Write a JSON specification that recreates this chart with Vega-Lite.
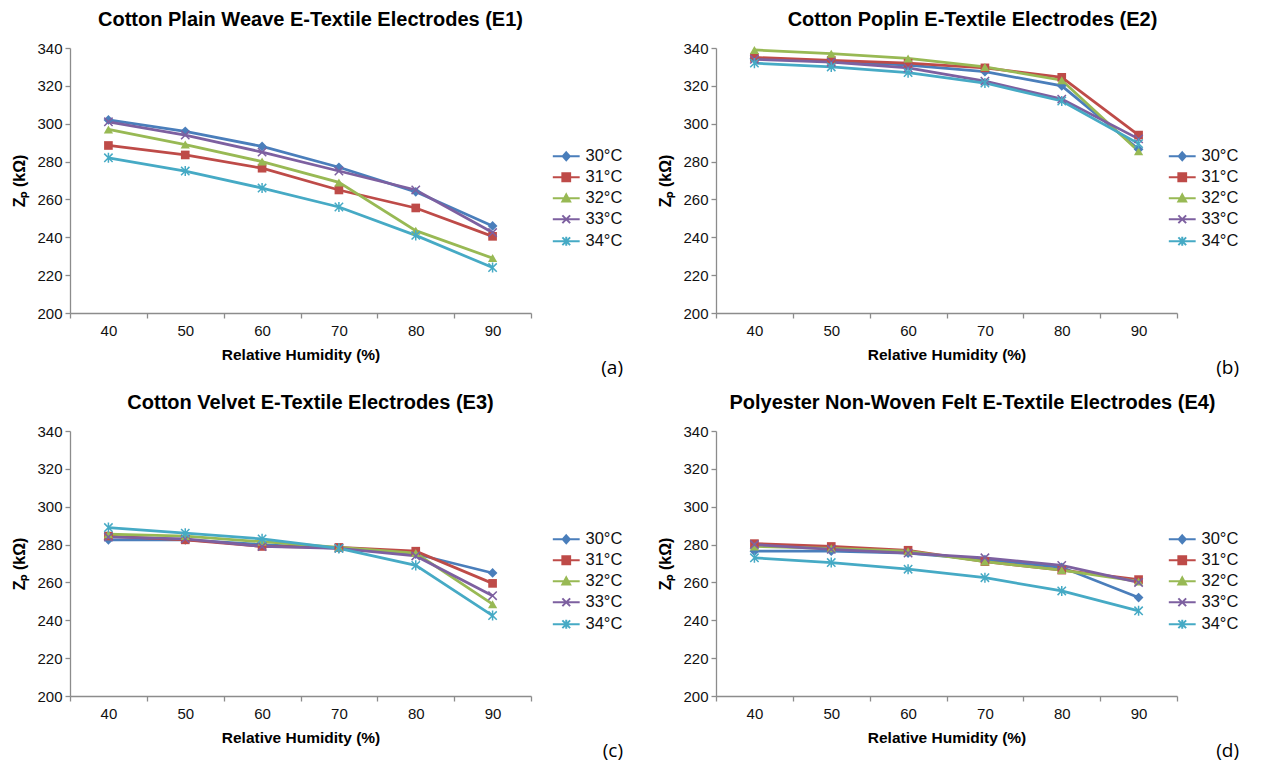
{
  "$schema": "https://vega.github.io/schema/vega-lite/v6.json",
  "background": "white",
  "padding": {"left": 11, "top": 10, "right": 5, "bottom": 5},
  "data": {"values": [
    {"panel":"E1","temp":"30°C","rh":40,"z":302},{"panel":"E1","temp":"30°C","rh":50,"z":296},{"panel":"E1","temp":"30°C","rh":60,"z":288},{"panel":"E1","temp":"30°C","rh":70,"z":277},{"panel":"E1","temp":"30°C","rh":80,"z":264},{"panel":"E1","temp":"30°C","rh":90,"z":246},
    {"panel":"E1","temp":"31°C","rh":40,"z":288.5},{"panel":"E1","temp":"31°C","rh":50,"z":283.5},{"panel":"E1","temp":"31°C","rh":60,"z":276.5},{"panel":"E1","temp":"31°C","rh":70,"z":265},{"panel":"E1","temp":"31°C","rh":80,"z":255.5},{"panel":"E1","temp":"31°C","rh":90,"z":240.5},
    {"panel":"E1","temp":"32°C","rh":40,"z":297},{"panel":"E1","temp":"32°C","rh":50,"z":289},{"panel":"E1","temp":"32°C","rh":60,"z":280},{"panel":"E1","temp":"32°C","rh":70,"z":269},{"panel":"E1","temp":"32°C","rh":80,"z":243.5},{"panel":"E1","temp":"32°C","rh":90,"z":229},
    {"panel":"E1","temp":"33°C","rh":40,"z":301},{"panel":"E1","temp":"33°C","rh":50,"z":294},{"panel":"E1","temp":"33°C","rh":60,"z":285},{"panel":"E1","temp":"33°C","rh":70,"z":275},{"panel":"E1","temp":"33°C","rh":80,"z":265},{"panel":"E1","temp":"33°C","rh":90,"z":242.5},
    {"panel":"E1","temp":"34°C","rh":40,"z":282},{"panel":"E1","temp":"34°C","rh":50,"z":275},{"panel":"E1","temp":"34°C","rh":60,"z":266},{"panel":"E1","temp":"34°C","rh":70,"z":256},{"panel":"E1","temp":"34°C","rh":80,"z":241},{"panel":"E1","temp":"34°C","rh":90,"z":224},

    {"panel":"E2","temp":"30°C","rh":40,"z":334.5},{"panel":"E2","temp":"30°C","rh":50,"z":333},{"panel":"E2","temp":"30°C","rh":60,"z":331},{"panel":"E2","temp":"30°C","rh":70,"z":327.5},{"panel":"E2","temp":"30°C","rh":80,"z":320},{"panel":"E2","temp":"30°C","rh":90,"z":286.5},
    {"panel":"E2","temp":"31°C","rh":40,"z":335},{"panel":"E2","temp":"31°C","rh":50,"z":333.5},{"panel":"E2","temp":"31°C","rh":60,"z":332},{"panel":"E2","temp":"31°C","rh":70,"z":329.5},{"panel":"E2","temp":"31°C","rh":80,"z":324.5},{"panel":"E2","temp":"31°C","rh":90,"z":294},
    {"panel":"E2","temp":"32°C","rh":40,"z":339},{"panel":"E2","temp":"32°C","rh":50,"z":337},{"panel":"E2","temp":"32°C","rh":60,"z":334.5},{"panel":"E2","temp":"32°C","rh":70,"z":330},{"panel":"E2","temp":"32°C","rh":80,"z":323},{"panel":"E2","temp":"32°C","rh":90,"z":285.5},
    {"panel":"E2","temp":"33°C","rh":40,"z":334},{"panel":"E2","temp":"33°C","rh":50,"z":332.5},{"panel":"E2","temp":"33°C","rh":60,"z":329.5},{"panel":"E2","temp":"33°C","rh":70,"z":322.5},{"panel":"E2","temp":"33°C","rh":80,"z":313},{"panel":"E2","temp":"33°C","rh":90,"z":292},
    {"panel":"E2","temp":"34°C","rh":40,"z":332},{"panel":"E2","temp":"34°C","rh":50,"z":330},{"panel":"E2","temp":"34°C","rh":60,"z":327},{"panel":"E2","temp":"34°C","rh":70,"z":321.5},{"panel":"E2","temp":"34°C","rh":80,"z":312},{"panel":"E2","temp":"34°C","rh":90,"z":289.5},

    {"panel":"E3","temp":"30°C","rh":40,"z":282.5},{"panel":"E3","temp":"30°C","rh":50,"z":282.5},{"panel":"E3","temp":"30°C","rh":60,"z":280},{"panel":"E3","temp":"30°C","rh":70,"z":278},{"panel":"E3","temp":"30°C","rh":80,"z":275},{"panel":"E3","temp":"30°C","rh":90,"z":265},
    {"panel":"E3","temp":"31°C","rh":40,"z":284.5},{"panel":"E3","temp":"31°C","rh":50,"z":282.5},{"panel":"E3","temp":"31°C","rh":60,"z":279},{"panel":"E3","temp":"31°C","rh":70,"z":278.5},{"panel":"E3","temp":"31°C","rh":80,"z":276.5},{"panel":"E3","temp":"31°C","rh":90,"z":259.5},
    {"panel":"E3","temp":"32°C","rh":40,"z":285.5},{"panel":"E3","temp":"32°C","rh":50,"z":284.5},{"panel":"E3","temp":"32°C","rh":60,"z":281.5},{"panel":"E3","temp":"32°C","rh":70,"z":278.5},{"panel":"E3","temp":"32°C","rh":80,"z":275.5},{"panel":"E3","temp":"32°C","rh":90,"z":248.5},
    {"panel":"E3","temp":"33°C","rh":40,"z":284},{"panel":"E3","temp":"33°C","rh":50,"z":283},{"panel":"E3","temp":"33°C","rh":60,"z":279},{"panel":"E3","temp":"33°C","rh":70,"z":278},{"panel":"E3","temp":"33°C","rh":80,"z":274},{"panel":"E3","temp":"33°C","rh":90,"z":253},
    {"panel":"E3","temp":"34°C","rh":40,"z":289},{"panel":"E3","temp":"34°C","rh":50,"z":286},{"panel":"E3","temp":"34°C","rh":60,"z":283},{"panel":"E3","temp":"34°C","rh":70,"z":278},{"panel":"E3","temp":"34°C","rh":80,"z":269},{"panel":"E3","temp":"34°C","rh":90,"z":242.5},

    {"panel":"E4","temp":"30°C","rh":40,"z":276.5},{"panel":"E4","temp":"30°C","rh":50,"z":276.5},{"panel":"E4","temp":"30°C","rh":60,"z":275.5},{"panel":"E4","temp":"30°C","rh":70,"z":272},{"panel":"E4","temp":"30°C","rh":80,"z":268},{"panel":"E4","temp":"30°C","rh":90,"z":252},
    {"panel":"E4","temp":"31°C","rh":40,"z":280.5},{"panel":"E4","temp":"31°C","rh":50,"z":279},{"panel":"E4","temp":"31°C","rh":60,"z":277},{"panel":"E4","temp":"31°C","rh":70,"z":271},{"panel":"E4","temp":"31°C","rh":80,"z":266.5},{"panel":"E4","temp":"31°C","rh":90,"z":261.5},
    {"panel":"E4","temp":"32°C","rh":40,"z":279},{"panel":"E4","temp":"32°C","rh":50,"z":278},{"panel":"E4","temp":"32°C","rh":60,"z":276.5},{"panel":"E4","temp":"32°C","rh":70,"z":271},{"panel":"E4","temp":"32°C","rh":80,"z":266.5},{"panel":"E4","temp":"32°C","rh":90,"z":260.5},
    {"panel":"E4","temp":"33°C","rh":40,"z":280},{"panel":"E4","temp":"33°C","rh":50,"z":277.5},{"panel":"E4","temp":"33°C","rh":60,"z":275.5},{"panel":"E4","temp":"33°C","rh":70,"z":273},{"panel":"E4","temp":"33°C","rh":80,"z":269},{"panel":"E4","temp":"33°C","rh":90,"z":260},
    {"panel":"E4","temp":"34°C","rh":40,"z":273},{"panel":"E4","temp":"34°C","rh":50,"z":270.5},{"panel":"E4","temp":"34°C","rh":60,"z":267},{"panel":"E4","temp":"34°C","rh":70,"z":262.5},{"panel":"E4","temp":"34°C","rh":80,"z":255.5},{"panel":"E4","temp":"34°C","rh":90,"z":245}
  ]},
  "columns": 2,
  "spacing": {"row": 15, "column": 34},
  "concat": [
    {
      "title": {"text": "(a)", "orient": "bottom", "anchor": "end", "font": "Open Sans", "fontSize": 19, "fontWeight": "normal", "offset": -4},
      "resolve": {"scale": {"color": "independent"}},
      "vconcat": [{
        "title": {"text": "Cotton Plain Weave E-Textile Electrodes (E1)", "dx": 10},
        "width": 461, "height": 265,
        "transform": [{"filter": "datum.panel == 'E1'"}],
        "encoding": {
          "x": {"field": "rh", "type": "ordinal", "bandPosition": 0.5, "scale": {"type": "band", "paddingInner": 0, "paddingOuter": 0}, "axis": {"title": "Relative Humidity (%)", "labelAngle": 0, "tickBand": "extent"}},
          "y": {"field": "z", "type": "quantitative", "scale": {"domain": [200, 340], "nice": false, "zero": false}, "axis": {"title": "Zₚ (kΩ)", "values": [200, 220, 240, 260, 280, 300, 320, 340]}},
          "color": {"field": "temp", "type": "nominal", "scale": {"domain": ["30°C", "31°C", "32°C", "33°C", "34°C"], "range": ["#4A7EBB", "#BE4B48", "#98B954", "#7D60A0", "#46AAC5"]},
            "legend": {"legendX": 488, "symbolType": "M-3.8,0L3.8,0", "encode": {"symbols": {"update": {
              "stroke": {"signal": "datum.value=='30°C'?'#4A7EBB':datum.value=='31°C'?'#BE4B48':datum.value=='32°C'?'#98B954':datum.value=='33°C'?'#7D60A0':'#46AAC5'"},
              "fill": {"signal": "datum.value=='30°C'?'#4A7EBB':datum.value=='31°C'?'#BE4B48':datum.value=='32°C'?'#98B954':datum.value=='33°C'?'#7D60A0':'#46AAC5'"},
              "shape": {"signal": "datum.value=='30°C'?'M-3.8,0L3.8,0M0,-1.1L1,0L0,1.1L-1,0Z':datum.value=='31°C'?'M-3.8,0L3.8,0M-1.1,-1.1L1.1,-1.1L1.1,1.1L-1.1,1.1Z':datum.value=='32°C'?'M-3.8,0L3.8,0M0,-1.1L1.1,0.9L-1.1,0.9Z':datum.value=='33°C'?'M-3.8,0L3.8,0M-1.1,-1.1L1.1,1.1M-1.1,1.1L1.1,-1.1':'M-3.8,0L3.8,0M-1.1,-1.1L1.1,1.1M-1.1,1.1L1.1,-1.1M0,-1.3L0,1.3'"},
              "strokeWidth": {"value": 2}}}}}}
        },
        "layer": [
          {"mark": {"type": "line", "strokeWidth": 2.75}},
          {"transform": [{"filter": "datum.temp == '30°C'"}], "mark": {"type": "point", "shape": "diamond", "filled": true, "opacity": 1, "size": 95}},
          {"transform": [{"filter": "datum.temp == '31°C'"}], "mark": {"type": "point", "shape": "square", "filled": true, "opacity": 1, "size": 75}},
          {"transform": [{"filter": "datum.temp == '32°C'"}], "mark": {"type": "point", "shape": "triangle-up", "filled": true, "opacity": 1, "size": 85}},
          {"transform": [{"filter": "datum.temp == '33°C'"}], "mark": {"type": "point", "shape": "M-1,-1L1,1M-1,1L1,-1", "filled": false, "opacity": 1, "size": 70, "strokeWidth": 1.5}},
          {"transform": [{"filter": "datum.temp == '34°C'"}], "mark": {"type": "point", "shape": "M-1,-1L1,1M-1,1L1,-1M0,-1.2L0,1.2", "filled": false, "opacity": 1, "size": 70, "strokeWidth": 1.5}}
        ]
      }]
    },
    {
      "title": {"text": "(b)", "orient": "bottom", "anchor": "end", "font": "Open Sans", "fontSize": 19, "fontWeight": "normal", "offset": -4},
      "resolve": {"scale": {"color": "independent"}},
      "vconcat": [{
        "title": {"text": "Cotton Poplin E-Textile Electrodes (E2)", "dx": 26},
        "width": 461, "height": 265,
        "transform": [{"filter": "datum.panel == 'E2'"}],
        "encoding": {
          "x": {"field": "rh", "type": "ordinal", "bandPosition": 0.5, "scale": {"type": "band", "paddingInner": 0, "paddingOuter": 0}, "axis": {"title": "Relative Humidity (%)", "labelAngle": 0, "tickBand": "extent"}},
          "y": {"field": "z", "type": "quantitative", "scale": {"domain": [200, 340], "nice": false, "zero": false}, "axis": {"title": "Zₚ (kΩ)", "values": [200, 220, 240, 260, 280, 300, 320, 340]}},
          "color": {"field": "temp", "type": "nominal", "scale": {"domain": ["30°C", "31°C", "32°C", "33°C", "34°C"], "range": ["#4A7EBB", "#BE4B48", "#98B954", "#7D60A0", "#46AAC5"]},
            "legend": {"legendX": 458, "symbolType": "M-3.8,0L3.8,0", "encode": {"symbols": {"update": {
              "stroke": {"signal": "datum.value=='30°C'?'#4A7EBB':datum.value=='31°C'?'#BE4B48':datum.value=='32°C'?'#98B954':datum.value=='33°C'?'#7D60A0':'#46AAC5'"},
              "fill": {"signal": "datum.value=='30°C'?'#4A7EBB':datum.value=='31°C'?'#BE4B48':datum.value=='32°C'?'#98B954':datum.value=='33°C'?'#7D60A0':'#46AAC5'"},
              "shape": {"signal": "datum.value=='30°C'?'M-3.8,0L3.8,0M0,-1.1L1,0L0,1.1L-1,0Z':datum.value=='31°C'?'M-3.8,0L3.8,0M-1.1,-1.1L1.1,-1.1L1.1,1.1L-1.1,1.1Z':datum.value=='32°C'?'M-3.8,0L3.8,0M0,-1.1L1.1,0.9L-1.1,0.9Z':datum.value=='33°C'?'M-3.8,0L3.8,0M-1.1,-1.1L1.1,1.1M-1.1,1.1L1.1,-1.1':'M-3.8,0L3.8,0M-1.1,-1.1L1.1,1.1M-1.1,1.1L1.1,-1.1M0,-1.3L0,1.3'"},
              "strokeWidth": {"value": 2}}}}}}
        },
        "layer": [
          {"mark": {"type": "line", "strokeWidth": 2.75}},
          {"transform": [{"filter": "datum.temp == '30°C'"}], "mark": {"type": "point", "shape": "diamond", "filled": true, "opacity": 1, "size": 95}},
          {"transform": [{"filter": "datum.temp == '31°C'"}], "mark": {"type": "point", "shape": "square", "filled": true, "opacity": 1, "size": 75}},
          {"transform": [{"filter": "datum.temp == '32°C'"}], "mark": {"type": "point", "shape": "triangle-up", "filled": true, "opacity": 1, "size": 85}},
          {"transform": [{"filter": "datum.temp == '33°C'"}], "mark": {"type": "point", "shape": "M-1,-1L1,1M-1,1L1,-1", "filled": false, "opacity": 1, "size": 70, "strokeWidth": 1.5}},
          {"transform": [{"filter": "datum.temp == '34°C'"}], "mark": {"type": "point", "shape": "M-1,-1L1,1M-1,1L1,-1M0,-1.2L0,1.2", "filled": false, "opacity": 1, "size": 70, "strokeWidth": 1.5}}
        ]
      }]
    },
    {
      "title": {"text": "(c)", "orient": "bottom", "anchor": "end", "font": "Open Sans", "fontSize": 19, "fontWeight": "normal", "offset": -4},
      "resolve": {"scale": {"color": "independent"}},
      "vconcat": [{
        "title": {"text": "Cotton Velvet E-Textile Electrodes (E3)", "dx": 10},
        "width": 461, "height": 265,
        "transform": [{"filter": "datum.panel == 'E3'"}],
        "encoding": {
          "x": {"field": "rh", "type": "ordinal", "bandPosition": 0.5, "scale": {"type": "band", "paddingInner": 0, "paddingOuter": 0}, "axis": {"title": "Relative Humidity (%)", "labelAngle": 0, "tickBand": "extent"}},
          "y": {"field": "z", "type": "quantitative", "scale": {"domain": [200, 340], "nice": false, "zero": false}, "axis": {"title": "Zₚ (kΩ)", "values": [200, 220, 240, 260, 280, 300, 320, 340]}},
          "color": {"field": "temp", "type": "nominal", "scale": {"domain": ["30°C", "31°C", "32°C", "33°C", "34°C"], "range": ["#4A7EBB", "#BE4B48", "#98B954", "#7D60A0", "#46AAC5"]},
            "legend": {"legendX": 488, "symbolType": "M-3.8,0L3.8,0", "encode": {"symbols": {"update": {
              "stroke": {"signal": "datum.value=='30°C'?'#4A7EBB':datum.value=='31°C'?'#BE4B48':datum.value=='32°C'?'#98B954':datum.value=='33°C'?'#7D60A0':'#46AAC5'"},
              "fill": {"signal": "datum.value=='30°C'?'#4A7EBB':datum.value=='31°C'?'#BE4B48':datum.value=='32°C'?'#98B954':datum.value=='33°C'?'#7D60A0':'#46AAC5'"},
              "shape": {"signal": "datum.value=='30°C'?'M-3.8,0L3.8,0M0,-1.1L1,0L0,1.1L-1,0Z':datum.value=='31°C'?'M-3.8,0L3.8,0M-1.1,-1.1L1.1,-1.1L1.1,1.1L-1.1,1.1Z':datum.value=='32°C'?'M-3.8,0L3.8,0M0,-1.1L1.1,0.9L-1.1,0.9Z':datum.value=='33°C'?'M-3.8,0L3.8,0M-1.1,-1.1L1.1,1.1M-1.1,1.1L1.1,-1.1':'M-3.8,0L3.8,0M-1.1,-1.1L1.1,1.1M-1.1,1.1L1.1,-1.1M0,-1.3L0,1.3'"},
              "strokeWidth": {"value": 2}}}}}}
        },
        "layer": [
          {"mark": {"type": "line", "strokeWidth": 2.75}},
          {"transform": [{"filter": "datum.temp == '30°C'"}], "mark": {"type": "point", "shape": "diamond", "filled": true, "opacity": 1, "size": 95}},
          {"transform": [{"filter": "datum.temp == '31°C'"}], "mark": {"type": "point", "shape": "square", "filled": true, "opacity": 1, "size": 75}},
          {"transform": [{"filter": "datum.temp == '32°C'"}], "mark": {"type": "point", "shape": "triangle-up", "filled": true, "opacity": 1, "size": 85}},
          {"transform": [{"filter": "datum.temp == '33°C'"}], "mark": {"type": "point", "shape": "M-1,-1L1,1M-1,1L1,-1", "filled": false, "opacity": 1, "size": 70, "strokeWidth": 1.5}},
          {"transform": [{"filter": "datum.temp == '34°C'"}], "mark": {"type": "point", "shape": "M-1,-1L1,1M-1,1L1,-1M0,-1.2L0,1.2", "filled": false, "opacity": 1, "size": 70, "strokeWidth": 1.5}}
        ]
      }]
    },
    {
      "title": {"text": "(d)", "orient": "bottom", "anchor": "end", "font": "Open Sans", "fontSize": 19, "fontWeight": "normal", "offset": -4},
      "resolve": {"scale": {"color": "independent"}},
      "vconcat": [{
        "title": {"text": "Polyester Non-Woven Felt E-Textile Electrodes (E4)", "dx": 26},
        "width": 461, "height": 265,
        "transform": [{"filter": "datum.panel == 'E4'"}],
        "encoding": {
          "x": {"field": "rh", "type": "ordinal", "bandPosition": 0.5, "scale": {"type": "band", "paddingInner": 0, "paddingOuter": 0}, "axis": {"title": "Relative Humidity (%)", "labelAngle": 0, "tickBand": "extent"}},
          "y": {"field": "z", "type": "quantitative", "scale": {"domain": [200, 340], "nice": false, "zero": false}, "axis": {"title": "Zₚ (kΩ)", "values": [200, 220, 240, 260, 280, 300, 320, 340]}},
          "color": {"field": "temp", "type": "nominal", "scale": {"domain": ["30°C", "31°C", "32°C", "33°C", "34°C"], "range": ["#4A7EBB", "#BE4B48", "#98B954", "#7D60A0", "#46AAC5"]},
            "legend": {"legendX": 458, "symbolType": "M-3.8,0L3.8,0", "encode": {"symbols": {"update": {
              "stroke": {"signal": "datum.value=='30°C'?'#4A7EBB':datum.value=='31°C'?'#BE4B48':datum.value=='32°C'?'#98B954':datum.value=='33°C'?'#7D60A0':'#46AAC5'"},
              "fill": {"signal": "datum.value=='30°C'?'#4A7EBB':datum.value=='31°C'?'#BE4B48':datum.value=='32°C'?'#98B954':datum.value=='33°C'?'#7D60A0':'#46AAC5'"},
              "shape": {"signal": "datum.value=='30°C'?'M-3.8,0L3.8,0M0,-1.1L1,0L0,1.1L-1,0Z':datum.value=='31°C'?'M-3.8,0L3.8,0M-1.1,-1.1L1.1,-1.1L1.1,1.1L-1.1,1.1Z':datum.value=='32°C'?'M-3.8,0L3.8,0M0,-1.1L1.1,0.9L-1.1,0.9Z':datum.value=='33°C'?'M-3.8,0L3.8,0M-1.1,-1.1L1.1,1.1M-1.1,1.1L1.1,-1.1':'M-3.8,0L3.8,0M-1.1,-1.1L1.1,1.1M-1.1,1.1L1.1,-1.1M0,-1.3L0,1.3'"},
              "strokeWidth": {"value": 2}}}}}}
        },
        "layer": [
          {"mark": {"type": "line", "strokeWidth": 2.75}},
          {"transform": [{"filter": "datum.temp == '30°C'"}], "mark": {"type": "point", "shape": "diamond", "filled": true, "opacity": 1, "size": 95}},
          {"transform": [{"filter": "datum.temp == '31°C'"}], "mark": {"type": "point", "shape": "square", "filled": true, "opacity": 1, "size": 75}},
          {"transform": [{"filter": "datum.temp == '32°C'"}], "mark": {"type": "point", "shape": "triangle-up", "filled": true, "opacity": 1, "size": 85}},
          {"transform": [{"filter": "datum.temp == '33°C'"}], "mark": {"type": "point", "shape": "M-1,-1L1,1M-1,1L1,-1", "filled": false, "opacity": 1, "size": 70, "strokeWidth": 1.5}},
          {"transform": [{"filter": "datum.temp == '34°C'"}], "mark": {"type": "point", "shape": "M-1,-1L1,1M-1,1L1,-1M0,-1.2L0,1.2", "filled": false, "opacity": 1, "size": 70, "strokeWidth": 1.5}}
        ]
      }]
    }
  ],
  "config": {
    "view": {"stroke": null},
    "font": "Liberation Sans",
    "title": {"font": "Liberation Sans", "fontSize": 20, "fontWeight": "bold", "color": "#000", "offset": 11},
    "axis": {"grid": false, "labelFont": "Liberation Sans", "labelFontSize": 15, "labelColor": "#111", "titleFont": "Liberation Sans", "titleFontSize": 15.5, "titleFontWeight": "bold", "titleColor": "#000", "domainColor": "#8c8c8c", "domainWidth": 1.3, "tickColor": "#8c8c8c", "tickSize": 5, "tickWidth": 1.3},
    "axisX": {"labelPadding": 5, "titlePadding": 9},
    "axisY": {"labelPadding": 3, "titlePadding": 9, "titleFontSize": 16},
    "legend": {"orient": "none", "legendY": 100, "title": null, "labelFont": "Liberation Sans", "labelFontSize": 16.5, "labelColor": "#111", "symbolSize": 50, "symbolStrokeWidth": 2, "rowPadding": 4, "labelOffset": 11}
  }
}
